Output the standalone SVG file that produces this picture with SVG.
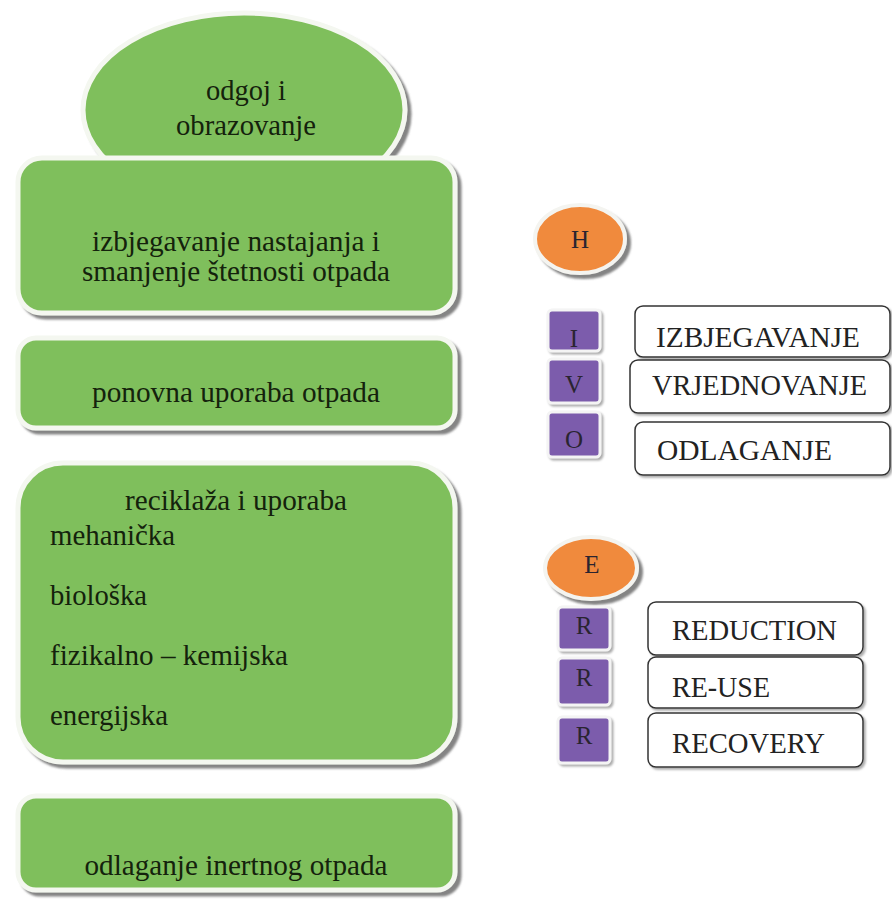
<svg xmlns="http://www.w3.org/2000/svg" width="892" height="911" viewBox="0 0 892 911">
<defs>
<filter id="sh" x="-10%" y="-10%" width="125%" height="130%">
<feDropShadow dx="4" dy="4" stdDeviation="1.2" flood-color="#6e6e6e" flood-opacity="0.85"/>
</filter>
<filter id="sh2" x="-10%" y="-10%" width="125%" height="130%">
<feDropShadow dx="2" dy="2" stdDeviation="1" flood-color="#888" flood-opacity="0.7"/>
</filter>
</defs>
<style>
.g{fill:#7fbf5b;stroke:#f4f7f0;stroke-width:5}
.o{fill:#f08a3e;stroke:#f4f4f0;stroke-width:4}
.p{fill:#7c5cac;stroke:#f4f4f4;stroke-width:3}
.w{fill:#ffffff;stroke:#333;stroke-width:1.5}
text{font-family:'Liberation Serif','Times New Roman',Tinos,'Noto Serif','DejaVu Serif',serif}
.t{font-size:29px;fill:#14220c}
.c{text-anchor:middle}
.k{font-size:30px;fill:#222}
.l{font-size:25px;fill:#2a2430;text-anchor:middle}
</style>
<rect width="892" height="911" fill="#ffffff"/>
<g id="node-odgoj">
<ellipse class="g" cx="244" cy="110" rx="161" ry="97" filter="url(#sh)"/>
<text class="t c" x="246" y="100" textLength="80" lengthAdjust="spacingAndGlyphs">odgoj i</text>
<text class="t c" x="246" y="135" textLength="140" lengthAdjust="spacingAndGlyphs">obrazovanje</text>
</g>
<g id="node-izbjegavanje">
<rect class="g" x="18" y="158" width="437" height="155" rx="24" filter="url(#sh)"/>
<text class="t c" x="236" y="251" textLength="288" lengthAdjust="spacingAndGlyphs">izbjegavanje nastajanja i</text>
<text class="t c" x="236" y="281" textLength="308" lengthAdjust="spacingAndGlyphs">smanjenje štetnosti otpada</text>
</g>
<g id="node-ponovna">
<rect class="g" x="18" y="338" width="437" height="90" rx="18" filter="url(#sh)"/>
<text class="t c" x="236" y="402" textLength="288" lengthAdjust="spacingAndGlyphs">ponovna uporaba otpada</text>
</g>
<g id="node-reciklaza">
<rect class="g" x="18" y="463" width="437" height="299" rx="45" filter="url(#sh)"/>
<text class="t c" x="236" y="510" textLength="222" lengthAdjust="spacingAndGlyphs">reciklaža i uporaba</text>
<text class="t" x="50" y="545" textLength="125" lengthAdjust="spacingAndGlyphs">mehanička</text>
<text class="t" x="50" y="605" textLength="97" lengthAdjust="spacingAndGlyphs">biološka</text>
<text class="t" x="50" y="665" textLength="238" lengthAdjust="spacingAndGlyphs">fizikalno – kemijska</text>
<text class="t" x="50" y="725" textLength="118" lengthAdjust="spacingAndGlyphs">energijska</text>
</g>
<g id="node-odlaganje">
<rect class="g" x="18" y="796" width="437" height="94" rx="18" filter="url(#sh)"/>
<text class="t c" x="236" y="875" textLength="303" lengthAdjust="spacingAndGlyphs">odlaganje inertnog otpada</text>
</g>
<g id="node-H">
<ellipse class="o" cx="580" cy="239" rx="45" ry="34" filter="url(#sh)"/>
<text class="l" x="580" y="248">H</text>
</g>
<g id="node-I">
<rect class="p" x="548" y="310" width="52" height="41" rx="4" filter="url(#sh2)"/>
<text class="l" x="574" y="347">I</text>
</g>
<g id="node-V">
<rect class="p" x="548" y="359" width="52" height="44" rx="4" filter="url(#sh2)"/>
<text class="l" x="574" y="393">V</text>
</g>
<g id="node-O">
<rect class="p" x="548" y="412" width="52" height="45" rx="4" filter="url(#sh2)"/>
<text class="l" x="574" y="448">O</text>
</g>
<g id="node-IZBJEGAVANJE">
<rect class="w" x="635" y="306" width="255" height="51" rx="8" filter="url(#sh2)"/>
<text class="k" x="656" y="347" textLength="204" lengthAdjust="spacingAndGlyphs">IZBJEGAVANJE</text>
</g>
<g id="node-VRJEDNOVANJE">
<rect class="w" x="630" y="360" width="260" height="53" rx="8" filter="url(#sh2)"/>
<text class="k" x="652" y="395" textLength="215" lengthAdjust="spacingAndGlyphs">VRJEDNOVANJE</text>
</g>
<g id="node-ODLAGANJE">
<rect class="w" x="635" y="422" width="255" height="53" rx="8" filter="url(#sh2)"/>
<text class="k" x="657" y="460" textLength="175" lengthAdjust="spacingAndGlyphs">ODLAGANJE</text>
</g>
<g id="node-E">
<ellipse class="o" cx="591" cy="568" rx="46" ry="31" filter="url(#sh)"/>
<text class="l" x="592" y="573">E</text>
</g>
<g id="node-R1">
<rect class="p" x="558" y="607" width="52" height="43" rx="4" filter="url(#sh2)"/>
<text class="l" x="584" y="634">R</text>
</g>
<g id="node-R2">
<rect class="p" x="558" y="658" width="52" height="47" rx="4" filter="url(#sh2)"/>
<text class="l" x="584" y="686">R</text>
</g>
<g id="node-R3">
<rect class="p" x="558" y="717" width="52" height="46" rx="4" filter="url(#sh2)"/>
<text class="l" x="584" y="744">R</text>
</g>
<g id="node-REDUCTION">
<rect class="w" x="648" y="602" width="215" height="53" rx="8" filter="url(#sh2)"/>
<text class="k" x="672" y="640" textLength="165" lengthAdjust="spacingAndGlyphs">REDUCTION</text>
</g>
<g id="node-REUSE">
<rect class="w" x="648" y="657" width="215" height="51" rx="8" filter="url(#sh2)"/>
<text class="k" x="672" y="697" textLength="98" lengthAdjust="spacingAndGlyphs">RE-USE</text>
</g>
<g id="node-RECOVERY">
<rect class="w" x="648" y="713" width="215" height="54" rx="8" filter="url(#sh2)"/>
<text class="k" x="672" y="753" textLength="153" lengthAdjust="spacingAndGlyphs">RECOVERY</text>
</g>
<g id="connectors"/>
</svg>
